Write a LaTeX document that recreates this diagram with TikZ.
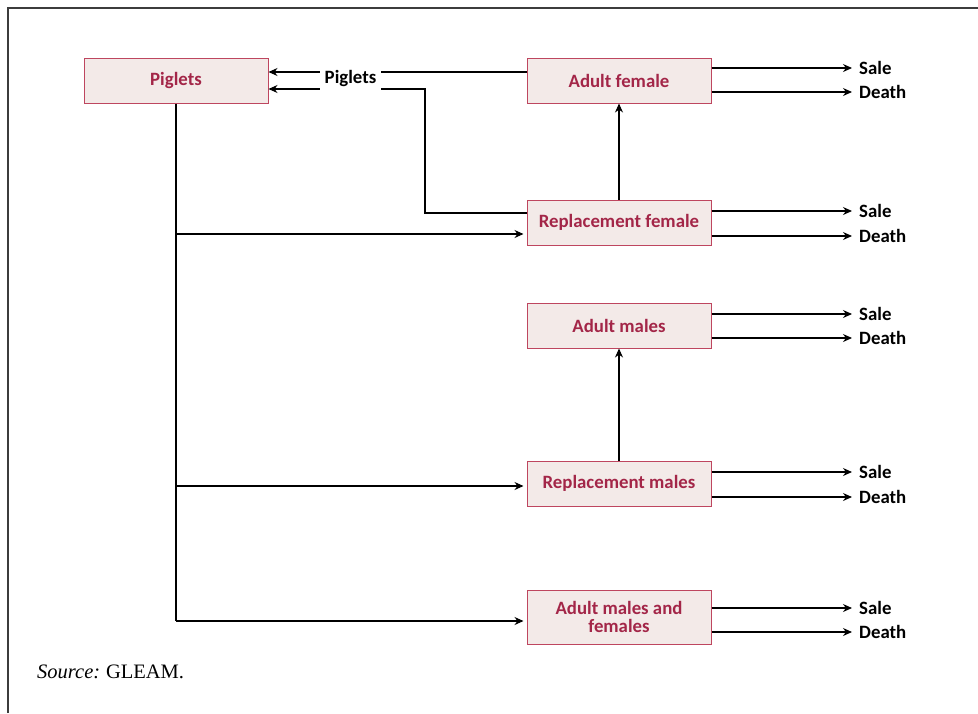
\documentclass[tikz,border=0pt]{standalone}
\usepackage{fontspec}
\setmainfont{Liberation Serif}
\newfontfamily\calib{Carlito}
\usetikzlibrary{arrows.meta}
\definecolor{boxfill}{RGB}{243,234,232}
\definecolor{boxdraw}{RGB}{190,70,95}
\definecolor{boxtext}{RGB}{163,38,72}
\definecolor{framec}{RGB}{60,60,60}
\tikzset{
  box/.style={draw=boxdraw, fill=boxfill, line width=1pt, minimum width=184pt, minimum height=45pt,
    inner sep=2pt, align=center, text=boxtext, font=\calib\bfseries\fontsize{18.8}{19.5}\selectfont},
  lbl/.style={inner sep=7pt, anchor=west, font=\calib\bfseries\fontsize{18.8}{20}\selectfont},
  conn/.style={line width=1.1pt, black},
  arr/.style={conn, -{Stealth[length=9pt,width=8pt]}},
}
\begin{document}
\begin{tikzpicture}[x=1pt,y=-1pt]
\useasboundingbox (0,0) rectangle (978,713);
\draw[framec, line width=1.3pt] (8,713) -- (8,8) -- (978,8);

\node[box] (pig) at (176,80.5) {Piglets};
\node[box] (af) at (619,80.5) {Adult female};
\node[box] (rf) at (619,222.5) {Replacement female};
\node[box] (am) at (619,325.5) {Adult males};
\node[box] (rm) at (619,483.5) {Replacement males};
\node[box, minimum height=54pt] (amf) at (619,617) {Adult males and\\[-1pt]females};

\node[inner sep=5pt, font=\calib\bfseries\fontsize{18.8}{20}\selectfont] (plab) at (350.5,78) {Piglets};

% piglets return flows
\draw[conn] (af.west |- 0,72) -- (plab.east |- 0,72);
\draw[arr] (plab.west |- 0,72) -- (pig.east |- 0,72);
\coordinate (k1) at (425,89);
\coordinate (k2) at (425,213);
\draw[conn] (rf.west |- k2) -- (k2) -- (k1) -- (plab.east |- k1);
\draw[arr] (plab.west |- k1) -- (pig.east |- k1);

% trunk
\coordinate (t1) at (176,234);
\coordinate (t2) at (176,486);
\coordinate (t3) at (176,621);
\draw[conn] (pig.south) -- (t3);
\draw[arr] (t1) -- ([xshift=-3pt]rf.west |- t1);
\draw[arr] (t2) -- ([xshift=-3pt]rm.west |- t2);
\draw[arr] (t3) -- ([xshift=-3pt]amf.west |- t3);

% upward
\draw[arr] (rf.north) -- (af.south);
\draw[arr] (rm.north) -- (am.south);

% sale / death
\foreach \b/\ys/\yd in {af/68/92, rf/211/236, am/314/338, rm/472/497, amf/608/632}{
  \node[lbl] (\b s) at (852,\ys) {Sale};
  \node[lbl] (\b d) at (852,\yd) {Death};
  \draw[arr] (\b.east |- \b s) -- (\b s.west);
  \draw[arr] (\b.east |- \b d) -- (\b d.west);
}

\node[anchor=west, inner sep=0pt, font=\fontsize{20.5}{23}\selectfont] (src) at (37,672) {\textit{Source:}\hspace{-1pt} GLEAM.};
\end{tikzpicture}
\end{document}
